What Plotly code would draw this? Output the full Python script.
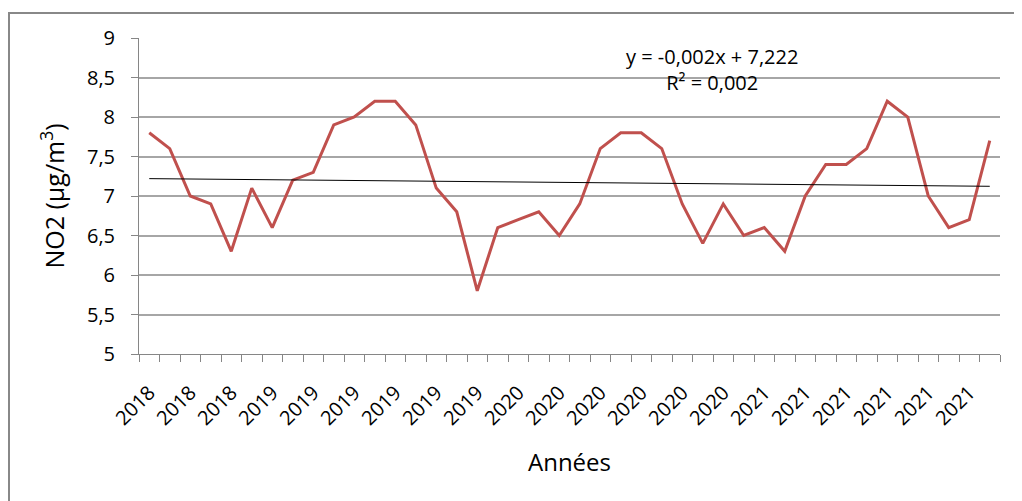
import numpy as np
import plotly.graph_objects as go

# one label per monthly category, Excel-style
years = ["2018"] * 6 + ["2019"] * 12 + ["2020"] * 12 + ["2021"] * 12
no2 = [7.8, 7.6, 7.0, 6.9, 6.3, 7.1, 6.6, 7.2, 7.3, 7.9,
       8.0, 8.2, 8.2, 7.9, 7.1, 6.8, 5.8, 6.6, 6.7, 6.8,
       6.5, 6.9, 7.6, 7.8, 7.8, 7.6, 6.9, 6.4, 6.9, 6.5,
       6.6, 6.3, 7.0, 7.4, 7.4, 7.6, 8.2, 8.0, 7.0, 6.6,
       6.7, 7.7]
trend_text = "y = -0,002x + 7,222<br>R² = 0,002"

idx = np.arange(len(no2))
slope, intercept = np.polyfit(idx + 1, no2, 1)
trend = intercept + slope * (idx + 1)

FONT = "Open Sans, Liberation Sans, sans-serif"

fig = go.Figure()
fig.add_trace(go.Scatter(
    x=idx, y=no2, mode="lines",
    line=dict(color="#c0504d", width=3),
    showlegend=False, hoverinfo="skip"
))
fig.add_trace(go.Scatter(
    x=idx, y=trend, mode="lines",
    line=dict(color="#000000", width=1),
    showlegend=False, hoverinfo="skip"
))

fig.add_annotation(
    x=0.665, y=0.9, xref="paper", yref="paper",
    text=trend_text, showarrow=False, align="center",
    font=dict(size=20, color="#000000", family=FONT),
    yanchor="middle"
)

# outer chart border
fig.add_shape(type="rect", xref="paper", yref="paper",
              x0=-0.151, x1=1.03, y0=-0.48, y1=1.079,
              line=dict(color="#888888", width=2))

# the page body adds an 8px offset, so margins are trimmed by that
fig.update_layout(
    width=1022, height=501,
    margin=dict(l=131, r=30, t=30, b=155),
    paper_bgcolor="white", plot_bgcolor="white",
    separators=", ",
    font=dict(family=FONT, color="#000000"),
    xaxis=dict(
        range=[-0.5, len(no2) - 0.5],
        automargin=False,
        tickmode="array",
        tickvals=idx[::2], ticktext=years[::2],
        tickangle=-45, ticks="",
        tickfont=dict(size=20),
        ticklabelstandoff=18,
        showgrid=False, zeroline=False,
        showline=True, linecolor="#868686", linewidth=1,
        minor=dict(tickmode="array", tickvals=np.arange(-0.5, len(no2), 1),
                   ticks="outside", ticklen=7, tickcolor="#868686", showgrid=False),
        title=dict(text="Années", font=dict(size=24), standoff=24),
    ),
    yaxis=dict(
        range=[5, 9], dtick=0.5, tick0=5,
        automargin=False,
        tickformat=".1~f",
        ticks="outside", ticklen=7, tickcolor="#868686",
        tickfont=dict(size=20),
        ticklabelstandoff=12,
        showgrid=True, gridcolor="#a6a6a6", gridwidth=1.5,
        zeroline=False,
        showline=True, linecolor="#868686", linewidth=1,
        title=dict(text="NO2 (µg/m<sup>3</sup>)", font=dict(size=25), standoff=15),
    ),
)

fig.write_html("out.html")
